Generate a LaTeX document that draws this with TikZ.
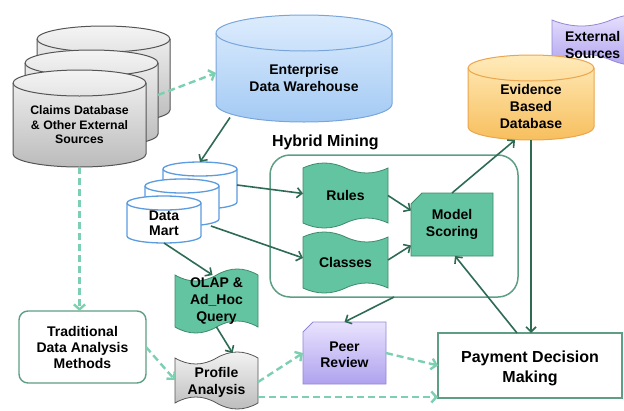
\documentclass[tikz,border=0pt]{standalone}
\usepackage{fontspec}
\setmainfont{Liberation Sans}
\usetikzlibrary{arrows.meta}
\definecolor{dkg}{HTML}{2E6B55}
\definecolor{ltg}{HTML}{7CCFB0}
\definecolor{tapeg}{HTML}{63C4A1}
\definecolor{tapeb}{HTML}{3E8A6C}
\definecolor{hybb}{HTML}{5E9E84}
\definecolor{grT}{HTML}{F4F4F4}
\definecolor{grB}{HTML}{BBBBBB}
\definecolor{grL}{HTML}{555555}
\definecolor{blT}{HTML}{DDECFD}
\definecolor{blB}{HTML}{A3CAF4}
\definecolor{blL}{HTML}{79A6DA}
\definecolor{orT}{HTML}{FFEBBA}
\definecolor{orB}{HTML}{F7BF5E}
\definecolor{orL}{HTML}{EBA54E}
\definecolor{puT}{HTML}{E9E3FE}
\definecolor{puB}{HTML}{AFA2EE}
\definecolor{puL}{HTML}{9486D6}
\definecolor{dmL}{HTML}{5B9BE0}
\newcommand\fsA{\fontsize{12.3}{14.5}\selectfont\bfseries}
\newcommand\fsB{\fontsize{14}{17}\selectfont\bfseries}
\newcommand\fsT{\fontsize{14}{16}\selectfont\bfseries}
\newcommand\fsM{\fontsize{14}{15}\selectfont\bfseries}
\newcommand\fsD{\fontsize{16}{20}\selectfont\bfseries}
\newcommand\fsE{\fontsize{16}{18}\selectfont\bfseries}
% cylinder: x1 y1 x2 y2 ry fillstyle linecolor linewidth
\newcommand\mycyl[8]{%
 \pgfmathsetmacro\cylrx{(#3-#1)/2}%
 \path[#6,draw=#7,line width=#8] (#1,#2+#5) -- (#1,#4-#5)
   arc[start angle=180,end angle=360,x radius=\cylrx pt,y radius=#5pt]
   -- (#3,#2+#5)
   arc[start angle=0,end angle=180,x radius=\cylrx pt,y radius=#5pt] -- cycle;
 \draw[draw=#7,line width=#8] (#1,#2+#5)
   arc[start angle=180,end angle=360,x radius=\cylrx pt,y radius=#5pt];}
% tape: x1 y1 x2 y2 amplitude topsign bottomsign style
\newcommand\mytape[8]{%
 \path[#8] (#1,#2)
  .. controls ({#1+(#3-#1)/6},{#2+#6*4*#5/3}) and ({#1+(#3-#1)/3},{#2+#6*4*#5/3}) .. ({(#1+#3)/2},#2)
  .. controls ({(#1+#3)/2+(#3-#1)/6},{#2-#6*4*#5/3}) and ({(#1+#3)/2+(#3-#1)/3},{#2-#6*4*#5/3}) .. (#3,#2)
  -- (#3,#4)
  .. controls ({#3-(#3-#1)/6},{#4-#7*4*#5/3}) and ({#3-(#3-#1)/3},{#4-#7*4*#5/3}) .. ({(#1+#3)/2},#4)
  .. controls ({(#1+#3)/2-(#3-#1)/6},{#4+#7*4*#5/3}) and ({(#1+#3)/2-(#3-#1)/3},{#4+#7*4*#5/3}) .. (#1,#4)
  -- cycle;}
% snipped rectangle: x1 y1 x2 y2 cut style
\newcommand\mysnip[6]{%
 \path[#6] (#1+#5,#2) -- (#3,#2) -- (#3,#4) -- (#1,#4) -- (#1,#2+#5) -- cycle;}
\begin{document}
\begin{tikzpicture}[x=1pt,y=-1pt,
  area/.style={inner sep=0pt,outer sep=0pt,align=center},
  sarr/.style={draw=dkg,line width=1.6pt,-{Straight Barb[length=5pt,width=10pt]}},
  darr/.style={draw=ltg,line width=2.4pt,dash pattern=on 7pt off 4pt,-{Straight Barb[length=5pt,width=11pt]}},
  grayfill/.style={top color=grT,bottom color=grB},
  tapefill/.style={fill=tapeg,draw=tapeb,line width=0.8pt}]
\useasboundingbox (0,0) rectangle (624,410);
\clip (0,0) rectangle (624,410);
% ---- shapes
\mytape{552}{20}{670}{60}{6}{1}{-1}{top color=puT,bottom color=puB,draw=puL,line width=0.8pt}
\mycyl{468}{55}{594}{140}{13}{top color=orT,bottom color=orB}{orL}{1pt}
\mycyl{37}{26}{170}{123}{13}{grayfill}{grL}{1pt}
\mycyl{25}{50}{158}{147}{13}{grayfill}{grL}{1pt}
\mycyl{13}{70}{146}{167}{13}{grayfill}{grL}{1pt}
\mycyl{216}{15}{392}{122}{18}{top color=blT,bottom color=blB}{blL}{1pt}
\mycyl{163}{162}{237}{209}{7}{fill=white}{dmL}{1.3pt}
\mycyl{145}{179}{219}{226}{7}{fill=white}{dmL}{1.3pt}
\mycyl{127}{196}{201}{243}{7}{fill=white}{dmL}{1.3pt}
\node[area,draw=hybb,line width=1.5pt,rounded corners=20pt,minimum width=248pt,minimum height=142pt] (hyb) at (394,226) {};
\mytape{303}{168}{388}{223}{5}{-1}{1}{tapefill}
\mytape{303}{237}{388}{288}{5}{-1}{1}{tapefill}
\mytape{175}{275}{258}{327}{6}{1}{1}{tapefill}
\mytape{175}{358}{258}{403}{6}{1}{-1}{grayfill,draw=grL,line width=0.8pt}
\mysnip{411}{193}{493}{256}{11}{tapefill}
\mysnip{303}{322}{386}{384}{10}{top color=puT,bottom color=puB,draw=puL,line width=0.8pt}
% ---- nodes
\node[area,font=\fsB,align=left,anchor=west] (ext) at (565,45) {External\\Sources};
\node[area,font=\fsB,minimum width=126pt,minimum height=68pt] (evid) at (531,106) {Evidence\\Based\\Database};
\node[area,minimum width=133pt,minimum height=84pt] (claimsK) at (103.5,81) {};
\node[area,minimum width=133pt,minimum height=84pt] (claimsB) at (91.5,105) {};
\node[area,font=\fsA,minimum width=133pt,minimum height=84pt] (claims) at (79.5,125) {Claims Database\\\& Other External\\Sources};
\node[area,font=\fsB,minimum width=176pt,minimum height=89pt] (edw) at (304,78) {Enterprise\\Data Warehouse};
\node[area,minimum width=74pt,minimum height=40pt] (dmK) at (200,189) {};
\node[area,minimum width=74pt,minimum height=40pt] (dmM) at (182,206) {};
\node[area,font=\fsM,minimum width=74pt,minimum height=40pt] (dmF) at (164,223) {Data\\Mart};
\node[area,font=\fsE,anchor=west] (hybT) at (272,142) {Hybrid Mining};
\node[area,font=\fsB,minimum width=85pt,minimum height=51pt] (rules) at (345.5,195.5) {Rules};
\node[area,font=\fsB,minimum width=85pt,minimum height=50pt] (classes) at (345.5,262) {Classes};
\node[area,font=\fsB,minimum width=82pt,minimum height=63pt] (ms) at (452,224.5) {Model\\Scoring};
\node[area,font=\fsB,minimum width=83pt,minimum height=52pt] (olap) at (216.5,301) {OLAP \&\\Ad\_Hoc\\Query};
\node[area,font=\fsB,minimum width=83pt,minimum height=48pt] (profile) at (216.5,382) {Profile\\Analysis};
\node[area,font=\fsT,draw=hybb,line width=1.4pt,rounded corners=9pt,fill=white,minimum width=127pt,minimum height=72pt] (trad) at (82.5,347) {Traditional\\Data Analysis\\Methods};
\node[area,font=\fsT,minimum width=83pt,minimum height=62pt] (peer) at (344.5,355) {Peer\\Review};
\node[area,draw=hybb,line width=1.6pt,fill=white,minimum width=184pt,minimum height=65pt] (pay) at (530,365.5) {};
\node[area,font=\fsD] (payT) at (530,368.5) {Payment Decision\\Making};
% ---- solid connectors
\draw[sarr] ([xshift=14pt,yshift=5pt]edw.south west) -- ([yshift=7pt]dmK.north);
\draw[sarr] ([yshift=4pt]dmK.east) -- ([yshift=2pt]rules.west);
\draw[sarr] ([xshift=-8pt]dmM.south east) -- ([yshift=4pt]classes.west);
\draw[sarr] (dmF.south) -- ([xshift=-4pt]olap.north);
\draw[sarr] (olap.south) -- ([xshift=16pt,yshift=5pt]profile.north);
\draw[sarr] (rules.east) -- ([yshift=14pt]ms.west);
\draw[sarr] ([yshift=2pt]classes.east) -- ([yshift=-21pt]ms.west);
\draw[sarr] (ms.north) -- ([xshift=-16pt]evid.south);
\draw[sarr] ([xshift=-13pt]pay.north) -- ([xshift=3pt]ms.south);
\draw[sarr] (evid.south) -- (evid.south |- pay.north);
\draw[sarr] (hyb.south) -- ([yshift=2pt]peer.north);
% ---- dashed connectors
\draw[darr] ([yshift=10pt]claimsB.east) -- ([yshift=5pt]edw.west);
\draw[darr] (claims.south) -- (claims.south |- trad.north);
\draw[darr] (trad.east) -- ([yshift=2pt]profile.west);
\draw[darr] (profile.east) -- ([yshift=2pt]peer.west);
\draw[darr] ([yshift=-15pt]profile.east) coordinate (pp) -- (pp -| pay.west);
\draw[darr] ([yshift=2pt]peer.east) -- (pay.west);
\end{tikzpicture}
\end{document}
